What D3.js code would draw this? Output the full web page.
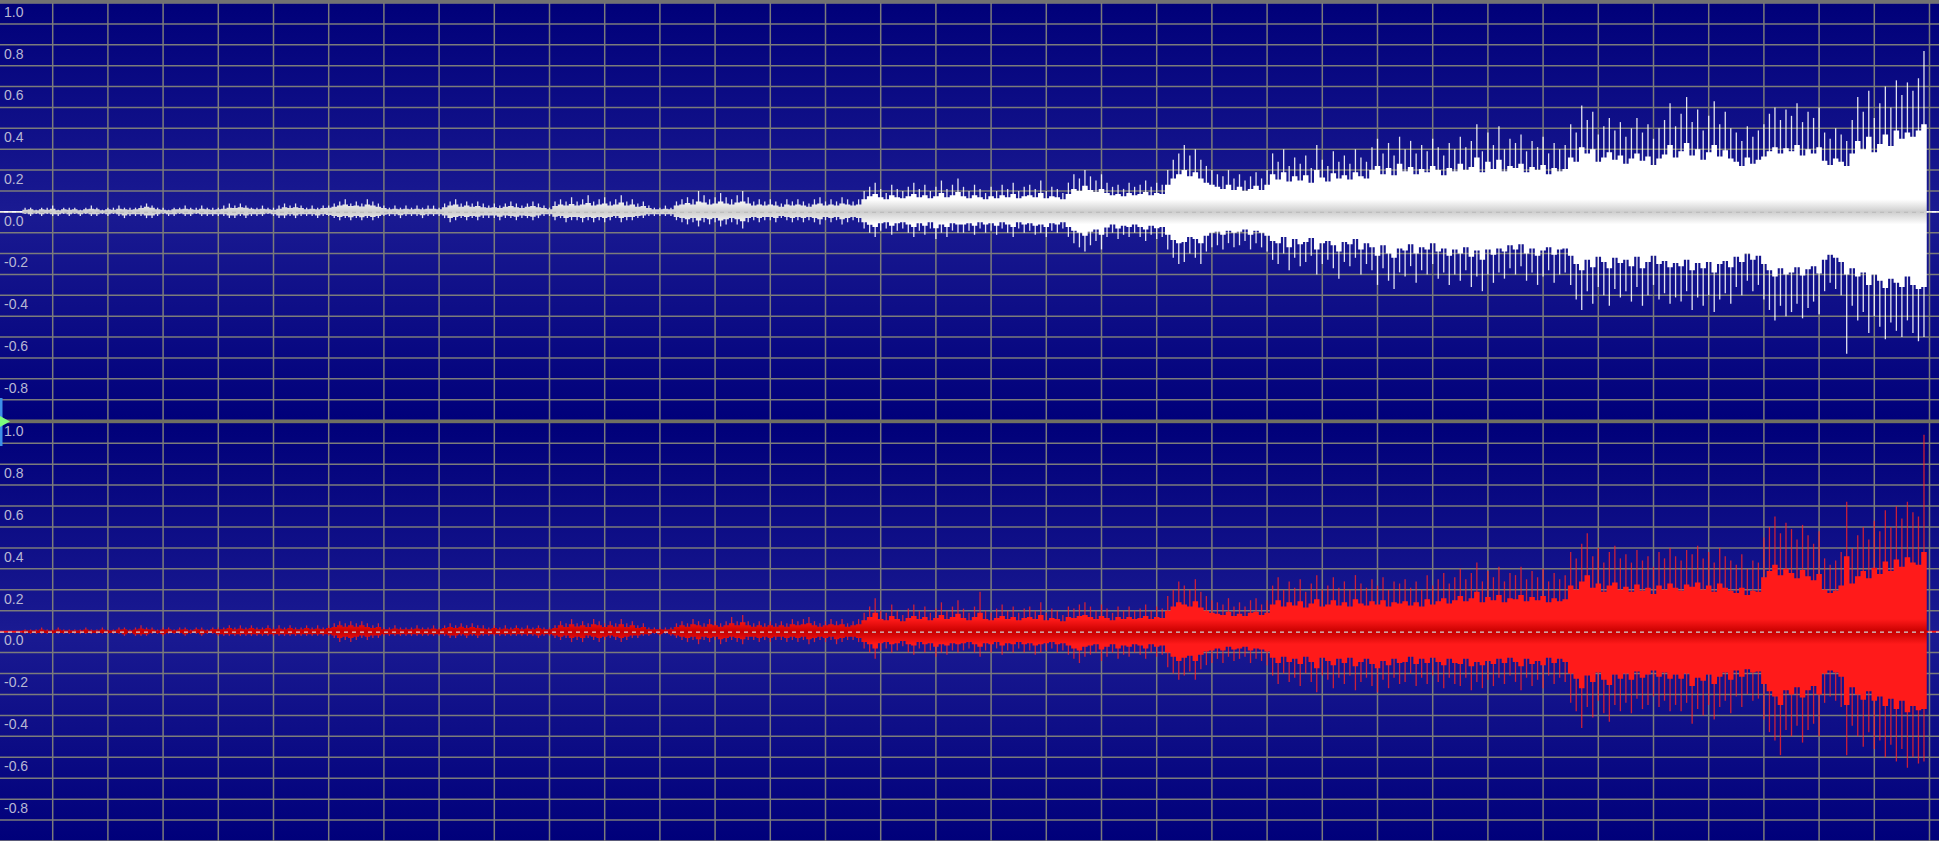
<!DOCTYPE html>
<html><head><meta charset="utf-8">
<script src="https://cdn.jsdelivr.net/npm/d3@7"></script>
<style>html,body{margin:0;padding:0;background:#000078;overflow:hidden}</style>
</head><body>
<svg id="chart" width="1939" height="841"></svg>
<script>
// ---------- data ----------
const tickValues = [1.0, 0.8, 0.6, 0.4, 0.2, 0.0, -0.2, -0.4, -0.6, -0.8];
const tickLabels = ["1.0", "0.8", "0.6", "0.4", "0.2", "0.0", "-0.2", "-0.4", "-0.6", "-0.8"];
const gridValues = [1.0,0.9,0.8,0.7,0.6,0.5,0.4,0.3,0.2,0.1,0.0,-0.1,-0.2,-0.3,-0.4,-0.5,-0.6,-0.7,-0.8,-0.9,-1.0];
const gridSeconds = [0,1,2,3,4,5,6,7,8,9,10,11,12,13,14,15,16,17,18,19,20,21,22,23,24,25,26,27,28,29,30,31,32,33,34,35];
const viewSeconds = [0, 35];
const clipStart = 0.45, clipEnd = 34.95;   // seconds
const binStep = 0.1;                         // seconds per bin

// channel 1 (top, white): peak maxima / minima per 0.1 s
const leftMax = [
.02,.02,.01,.02,.02,.03,.01,.02,.02,.02,
.01,.02,.03,.02,.01,.02,.02,.03,.02,.02,
.02,.03,.04,.03,.02,.02,.01,.02,.02,.03,
.02,.02,.03,.02,.02,.02,.03,.04,.03,.04,
.03,.02,.02,.03,.02,.02,.03,.04,.03,.04,
.03,.02,.03,.02,.03,.03,.04,.05,.06,.04,
.05,.04,.06,.05,.04,.03,.02,.03,.02,.03,
.02,.03,.02,.03,.03,.02,.04,.05,.06,.04,
.05,.04,.05,.04,.03,.04,.03,.04,.05,.04,
.03,.04,.05,.04,.03,.02,.05,.06,.05,.07,
.05,.06,.08,.05,.06,.07,.05,.06,.08,.05,
.06,.04,.05,.03,.02,.02,.03,.02,.05,.06,
.07,.06,.1,.08,.06,.07,.09,.07,.06,.08,
.1,.07,.05,.06,.05,.06,.05,.04,.06,.05,
.06,.05,.04,.06,.07,.05,.06,.05,.07,.06,
.05,.06,.1,.12,.14,.11,.09,.13,.11,.1,
.12,.14,.11,.13,.1,.12,.15,.11,.13,.16,
.12,.1,.13,.11,.09,.12,.1,.13,.11,.14,
.1,.12,.13,.11,.15,.1,.12,.11,.09,.14,
.18,.16,.2,.17,.15,.18,.14,.12,.13,.11,
.14,.12,.13,.15,.12,.14,.13,.2,.25,.28,
.32,.27,.3,.25,.22,.2,.18,.17,.2,.16,
.18,.15,.17,.19,.16,.2,.28,.24,.3,.22,
.26,.23,.27,.21,.32,.25,.22,.29,.24,.27,
.23,.3,.26,.24,.31,.35,.28,.33,.27,.36,
.3,.34,.28,.32,.29,.35,.31,.27,.33,.3,
.36,.31,.34,.42,.29,.38,.32,.41,.3,.35,
.33,.37,.29,.34,.31,.36,.28,.33,.3,.32,
.42,.38,.51,.44,.48,.37,.41,.45,.39,.43,
.36,.4,.45,.38,.42,.35,.4,.44,.52,.41,
.47,.55,.43,.49,.39,.46,.53,.42,.48,.4,
.38,.34,.41,.36,.39,.42,.47,.5,.44,.49,
.46,.52,.43,.48,.45,.5,.38,.35,.4,.37,
.34,.44,.55,.48,.58,.45,.52,.6,.5,.63,
.56,.62,.58,.64,.77];
const leftMin = [
-.01,-.02,-.01,-.02,-.01,-.02,-.02,-.01,-.02,-.01,
-.02,-.01,-.02,-.02,-.01,-.02,-.01,-.02,-.03,-.02,
-.02,-.02,-.03,-.03,-.02,-.01,-.02,-.02,-.01,-.02,
-.02,-.01,-.02,-.02,-.02,-.02,-.02,-.03,-.03,-.02,
-.03,-.02,-.02,-.02,-.01,-.02,-.03,-.03,-.02,-.03,
-.02,-.02,-.02,-.03,-.02,-.02,-.03,-.04,-.03,-.04,
-.03,-.04,-.03,-.04,-.03,-.02,-.02,-.02,-.03,-.02,
-.02,-.02,-.03,-.02,-.02,-.02,-.03,-.05,-.04,-.03,
-.04,-.03,-.04,-.03,-.03,-.03,-.04,-.03,-.03,-.04,
-.03,-.03,-.04,-.03,-.02,-.02,-.04,-.03,-.05,-.04,
-.04,-.05,-.04,-.05,-.04,-.05,-.04,-.03,-.05,-.04,
-.04,-.03,-.03,-.02,-.02,-.02,-.02,-.02,-.04,-.05,
-.06,-.05,-.07,-.05,-.06,-.05,-.07,-.06,-.05,-.06,
-.08,-.05,-.04,-.05,-.04,-.04,-.05,-.03,-.04,-.05,
-.04,-.05,-.04,-.05,-.06,-.04,-.05,-.04,-.06,-.05,
-.04,-.05,-.08,-.1,-.12,-.09,-.08,-.11,-.09,-.08,
-.1,-.12,-.09,-.11,-.08,-.13,-.1,-.12,-.09,-.1,
-.1,-.09,-.11,-.08,-.1,-.09,-.11,-.08,-.1,-.12,
-.08,-.1,-.09,-.11,-.1,-.12,-.09,-.1,-.08,-.12,
-.15,-.17,-.19,-.16,-.14,-.18,-.12,-.1,-.13,-.11,
-.12,-.1,-.12,-.14,-.11,-.13,-.12,-.18,-.22,-.25,
-.24,-.2,-.22,-.25,-.19,-.17,-.16,-.18,-.15,-.17,
-.16,-.14,-.18,-.15,-.17,-.19,-.23,-.25,-.2,-.28,
-.22,-.26,-.24,-.21,-.3,-.25,-.23,-.27,-.32,-.24,
-.26,-.22,-.3,-.25,-.28,-.35,-.27,-.33,-.37,-.29,
-.31,-.26,-.34,-.28,-.3,-.25,-.32,-.29,-.35,-.3,
-.33,-.28,-.36,-.31,-.38,-.3,-.34,-.29,-.32,-.27,
-.3,-.26,-.33,-.29,-.35,-.31,-.28,-.34,-.3,-.29,
-.35,-.42,-.47,-.38,-.44,-.36,-.4,-.45,-.37,-.41,
-.38,-.43,-.36,-.45,-.4,-.35,-.42,-.39,-.44,-.41,
-.43,-.38,-.47,-.41,-.45,-.4,-.48,-.42,-.39,-.44,
-.36,-.4,-.33,-.38,-.35,-.42,-.47,-.52,-.45,-.5,
-.48,-.44,-.51,-.46,-.43,-.49,-.38,-.34,-.37,-.4,
-.68,-.45,-.52,-.48,-.58,-.5,-.55,-.61,-.53,-.57,
-.6,-.52,-.58,-.62,-.6];
// channel 1 dense body (bulk of samples) per 0.1 s
const leftBodyHi = [
.01,.012,.008,.012,.01,.015,.008,.012,.01,.012,
.008,.012,.015,.012,.008,.012,.01,.015,.012,.01,
.012,.018,.025,.02,.012,.01,.008,.012,.012,.015,
.012,.01,.015,.012,.01,.012,.015,.02,.018,.022,
.02,.015,.012,.015,.012,.01,.015,.022,.018,.022,
.018,.012,.015,.012,.018,.02,.025,.03,.035,.028,
.03,.026,.035,.03,.025,.018,.012,.015,.012,.015,
.012,.015,.012,.015,.015,.012,.022,.03,.035,.025,
.03,.025,.028,.022,.02,.022,.018,.024,.028,.022,
.018,.024,.028,.022,.018,.012,.028,.035,.03,.038,
.03,.035,.042,.03,.035,.04,.03,.035,.045,.03,
.035,.025,.028,.018,.012,.012,.015,.012,.03,.035,
.042,.035,.05,.045,.035,.04,.05,.04,.035,.045,
.05,.04,.03,.035,.03,.035,.03,.025,.035,.03,
.035,.03,.025,.035,.04,.03,.035,.03,.04,.035,
.03,.035,.06,.075,.085,.07,.06,.08,.07,.065,
.075,.085,.07,.08,.065,.075,.09,.07,.08,.095,
.075,.065,.08,.07,.06,.075,.065,.08,.07,.085,
.065,.075,.08,.07,.09,.065,.075,.07,.06,.085,
.11,.1,.125,.105,.095,.11,.09,.08,.085,.075,
.09,.08,.085,.095,.08,.09,.085,.13,.16,.18,
.2,.17,.19,.16,.14,.13,.12,.11,.13,.105,
.12,.1,.11,.125,.105,.13,.18,.155,.19,.145,
.17,.15,.175,.14,.2,.165,.145,.185,.16,.175,
.155,.19,.17,.16,.2,.22,.18,.21,.175,.23,
.195,.215,.18,.205,.19,.22,.2,.175,.21,.195,
.23,.2,.215,.26,.19,.24,.205,.25,.195,.22,
.21,.23,.19,.215,.2,.225,.18,.21,.195,.205,
.26,.24,.31,.28,.3,.24,.26,.285,.25,.27,
.23,.255,.28,.245,.265,.225,.255,.275,.32,.26,
.29,.33,.27,.3,.25,.285,.32,.265,.295,.255,
.24,.22,.26,.23,.25,.265,.29,.31,.28,.305,
.29,.32,.27,.3,.28,.31,.245,.225,.255,.24,
.22,.28,.34,.3,.36,.285,.325,.37,.315,.39,
.35,.38,.36,.39,.42];
const leftBodyLo = [
-.008,-.012,-.008,-.012,-.008,-.012,-.012,-.008,-.012,-.008,
-.012,-.008,-.012,-.012,-.008,-.012,-.008,-.012,-.018,-.012,
-.012,-.012,-.018,-.018,-.012,-.008,-.012,-.012,-.008,-.012,
-.012,-.008,-.012,-.012,-.012,-.012,-.012,-.018,-.018,-.012,
-.018,-.012,-.012,-.012,-.008,-.012,-.018,-.018,-.012,-.018,
-.012,-.012,-.012,-.018,-.012,-.015,-.02,-.025,-.02,-.026,
-.02,-.026,-.02,-.025,-.02,-.014,-.012,-.012,-.016,-.012,
-.012,-.012,-.016,-.012,-.012,-.012,-.018,-.03,-.025,-.02,
-.025,-.02,-.024,-.018,-.018,-.018,-.024,-.018,-.02,-.024,
-.018,-.02,-.024,-.018,-.012,-.012,-.024,-.02,-.03,-.025,
-.025,-.03,-.025,-.03,-.025,-.03,-.025,-.02,-.03,-.025,
-.025,-.02,-.018,-.012,-.012,-.012,-.012,-.012,-.025,-.03,
-.036,-.03,-.042,-.03,-.036,-.03,-.042,-.036,-.03,-.036,
-.045,-.03,-.025,-.03,-.025,-.025,-.03,-.02,-.025,-.03,
-.025,-.03,-.025,-.03,-.036,-.025,-.03,-.025,-.036,-.03,
-.025,-.03,-.05,-.062,-.072,-.055,-.05,-.066,-.055,-.05,
-.06,-.072,-.055,-.066,-.05,-.078,-.06,-.072,-.055,-.06,
-.06,-.055,-.066,-.05,-.06,-.055,-.066,-.05,-.06,-.072,
-.05,-.06,-.055,-.066,-.06,-.072,-.055,-.06,-.05,-.072,
-.09,-.1,-.115,-.095,-.085,-.11,-.075,-.06,-.08,-.066,
-.072,-.06,-.072,-.085,-.066,-.078,-.072,-.11,-.135,-.15,
-.145,-.12,-.13,-.15,-.115,-.1,-.095,-.11,-.09,-.1,
-.095,-.085,-.11,-.09,-.1,-.115,-.14,-.15,-.12,-.17,
-.13,-.155,-.145,-.125,-.18,-.15,-.14,-.16,-.19,-.145,
-.155,-.13,-.18,-.15,-.17,-.21,-.16,-.2,-.22,-.175,
-.185,-.155,-.2,-.17,-.18,-.15,-.19,-.175,-.21,-.18,
-.2,-.17,-.215,-.185,-.23,-.18,-.205,-.175,-.19,-.16,
-.18,-.155,-.2,-.175,-.21,-.185,-.17,-.205,-.18,-.175,
-.21,-.25,-.28,-.23,-.265,-.215,-.24,-.27,-.22,-.245,
-.23,-.26,-.215,-.27,-.24,-.21,-.25,-.235,-.265,-.245,
-.26,-.23,-.28,-.245,-.27,-.24,-.29,-.25,-.235,-.265,
-.215,-.24,-.2,-.23,-.21,-.25,-.28,-.31,-.27,-.3,
-.29,-.265,-.305,-.275,-.26,-.295,-.23,-.205,-.22,-.24,
-.3,-.27,-.31,-.29,-.35,-.3,-.33,-.365,-.32,-.34,
-.36,-.31,-.35,-.37,-.36];

// channel 2 (bottom, red)
const rightMax = [
.01,.01,.01,.02,.01,.01,.02,.01,.01,.01,
.01,.02,.01,.01,.02,.01,.01,.02,.02,.01,
.02,.03,.02,.02,.01,.02,.02,.01,.02,.02,
.01,.02,.02,.01,.02,.02,.02,.03,.02,.03,
.02,.03,.02,.02,.03,.02,.03,.02,.03,.02,
.02,.03,.02,.03,.02,.03,.04,.05,.04,.05,
.04,.05,.04,.03,.04,.02,.02,.03,.02,.02,
.02,.03,.02,.02,.03,.02,.03,.04,.03,.04,
.03,.04,.03,.03,.02,.03,.02,.03,.02,.03,
.02,.03,.02,.03,.02,.02,.03,.05,.04,.06,
.04,.05,.04,.06,.05,.04,.05,.04,.06,.04,
.05,.03,.04,.02,.02,.02,.02,.02,.04,.05,
.04,.06,.05,.04,.06,.05,.04,.05,.07,.05,
.08,.05,.04,.05,.04,.05,.04,.05,.04,.06,
.05,.06,.07,.05,.04,.05,.06,.05,.06,.04,
.05,.06,.09,.12,.16,.1,.09,.13,.1,.08,
.11,.13,.1,.12,.09,.11,.14,.1,.12,.15,
.11,.09,.12,.19,.1,.09,.11,.13,.1,.12,
.09,.11,.12,.1,.14,.09,.11,.1,.08,.12,
.11,.13,.14,.12,.1,.13,.11,.09,.12,.1,
.12,.1,.11,.13,.1,.12,.11,.17,.2,.24,
.22,.2,.25,.19,.17,.15,.14,.13,.16,.12,
.14,.12,.15,.16,.13,.15,.22,.26,.2,.24,
.21,.25,.19,.23,.27,.2,.22,.26,.21,.24,
.2,.27,.23,.21,.25,.22,.26,.2,.24,.23,
.25,.21,.24,.2,.27,.22,.25,.28,.23,.26,
.3,.25,.28,.33,.24,.29,.26,.31,.24,.28,
.27,.31,.25,.29,.26,.3,.24,.28,.25,.27,
.38,.35,.42,.47,.36,.4,.33,.38,.41,.35,
.37,.33,.39,.34,.36,.31,.38,.35,.4,.36,
.34,.39,.37,.41,.35,.38,.33,.4,.36,.34,
.32,.37,.3,.34,.33,.45,.5,.55,.47,.52,
.49,.44,.51,.46,.42,.48,.35,.32,.34,.38,
.62,.4,.46,.5,.44,.53,.48,.58,.5,.6,
.54,.62,.57,.55,.94];
const rightMin = [
-.01,-.01,-.01,-.01,-.01,-.01,-.01,-.01,-.01,-.01,
-.01,-.01,-.01,-.01,-.01,-.01,-.01,-.01,-.02,-.01,
-.02,-.02,-.02,-.01,-.01,-.02,-.01,-.01,-.01,-.02,
-.01,-.01,-.02,-.01,-.01,-.02,-.02,-.02,-.02,-.02,
-.02,-.02,-.02,-.02,-.02,-.02,-.02,-.02,-.02,-.02,
-.02,-.02,-.02,-.02,-.02,-.02,-.03,-.05,-.04,-.05,
-.04,-.03,-.04,-.03,-.03,-.02,-.02,-.02,-.02,-.02,
-.02,-.02,-.02,-.02,-.02,-.02,-.02,-.03,-.03,-.02,
-.03,-.02,-.03,-.02,-.02,-.02,-.02,-.02,-.02,-.02,
-.02,-.02,-.02,-.03,-.02,-.02,-.03,-.04,-.03,-.05,
-.04,-.05,-.03,-.04,-.05,-.04,-.03,-.04,-.05,-.04,
-.03,-.03,-.02,-.02,-.01,-.02,-.01,-.02,-.03,-.04,
-.05,-.04,-.06,-.04,-.05,-.04,-.06,-.05,-.04,-.05,
-.06,-.04,-.04,-.05,-.04,-.05,-.04,-.04,-.05,-.04,
-.05,-.04,-.06,-.05,-.04,-.05,-.04,-.06,-.05,-.04,
-.04,-.05,-.08,-.1,-.13,-.09,-.08,-.1,-.09,-.07,
-.1,-.11,-.08,-.1,-.09,-.12,-.1,-.11,-.09,-.1,
-.09,-.08,-.1,-.12,-.09,-.1,-.08,-.11,-.09,-.1,
-.08,-.1,-.09,-.11,-.1,-.09,-.08,-.1,-.09,-.11,
-.13,-.15,-.12,-.11,-.1,-.14,-.12,-.1,-.13,-.11,
-.12,-.1,-.11,-.13,-.1,-.12,-.11,-.17,-.2,-.23,
-.21,-.19,-.23,-.18,-.16,-.15,-.13,-.15,-.12,-.14,
-.13,-.12,-.15,-.13,-.14,-.16,-.21,-.25,-.2,-.24,
-.22,-.26,-.2,-.24,-.29,-.21,-.23,-.27,-.22,-.25,
-.21,-.28,-.24,-.22,-.26,-.29,-.23,-.27,-.22,-.25,
-.24,-.2,-.26,-.22,-.25,-.21,-.24,-.27,-.22,-.25,
-.26,-.22,-.28,-.24,-.27,-.23,-.26,-.22,-.25,-.21,
-.24,-.28,-.22,-.26,-.23,-.27,-.21,-.25,-.22,-.24,
-.34,-.38,-.46,-.36,-.41,-.33,-.39,-.43,-.35,-.38,
-.34,-.39,-.32,-.37,-.35,-.31,-.36,-.33,-.38,-.35,
-.38,-.34,-.44,-.37,-.4,-.35,-.42,-.36,-.33,-.39,
-.31,-.36,-.3,-.33,-.32,-.42,-.48,-.52,-.59,-.47,
-.5,-.45,-.53,-.47,-.44,-.5,-.34,-.31,-.33,-.36,
-.59,-.45,-.5,-.55,-.48,-.56,-.52,-.6,-.54,-.62,
-.56,-.65,-.6,-.63,-.62];
const rightBodyHi = [
.006,.006,.006,.01,.006,.006,.01,.006,.006,.006,
.006,.01,.006,.006,.01,.006,.006,.01,.012,.006,
.01,.015,.012,.01,.006,.01,.012,.006,.01,.012,
.006,.012,.01,.006,.012,.012,.012,.018,.012,.015,
.012,.018,.012,.012,.018,.012,.015,.012,.018,.012,
.012,.018,.012,.015,.012,.018,.022,.03,.024,.03,
.024,.03,.022,.018,.022,.012,.012,.015,.012,.012,
.012,.015,.012,.012,.015,.012,.018,.022,.018,.024,
.018,.022,.018,.015,.012,.018,.012,.015,.012,.018,
.012,.015,.012,.018,.012,.012,.018,.03,.022,.035,
.025,.03,.022,.035,.03,.022,.03,.024,.035,.022,
.03,.018,.022,.012,.012,.012,.01,.012,.022,.03,
.024,.035,.03,.024,.035,.03,.024,.03,.04,.03,
.045,.03,.024,.03,.024,.03,.024,.03,.024,.035,
.03,.035,.04,.03,.024,.03,.035,.03,.035,.024,
.03,.035,.055,.07,.09,.06,.055,.075,.06,.05,
.065,.075,.06,.07,.055,.065,.08,.06,.07,.085,
.065,.055,.07,.09,.06,.055,.065,.075,.06,.07,
.055,.065,.07,.06,.08,.055,.065,.06,.05,.07,
.065,.075,.08,.07,.06,.075,.065,.055,.07,.06,
.07,.06,.065,.075,.06,.07,.065,.1,.12,.14,
.13,.12,.145,.115,.1,.09,.085,.08,.095,.075,
.085,.075,.09,.095,.08,.09,.13,.15,.12,.14,
.125,.145,.115,.135,.155,.12,.13,.15,.125,.14,
.12,.155,.135,.125,.145,.13,.15,.12,.14,.135,
.145,.125,.14,.12,.155,.13,.145,.16,.135,.15,
.17,.145,.16,.19,.14,.165,.15,.175,.14,.16,
.155,.175,.145,.165,.15,.17,.14,.16,.145,.155,
.22,.2,.24,.27,.21,.23,.19,.22,.235,.2,
.215,.19,.225,.195,.21,.18,.22,.2,.23,.21,
.195,.225,.215,.235,.2,.22,.19,.23,.21,.195,
.185,.21,.175,.195,.19,.26,.29,.32,.27,.3,
.28,.255,.295,.265,.245,.275,.2,.185,.195,.22,
.36,.23,.265,.29,.255,.305,.275,.335,.29,.345,
.31,.355,.33,.32,.38];
const rightBodyLo = [
-.006,-.006,-.006,-.006,-.006,-.006,-.006,-.006,-.006,-.006,
-.006,-.006,-.006,-.006,-.006,-.006,-.006,-.006,-.012,-.006,
-.012,-.012,-.012,-.006,-.006,-.012,-.006,-.006,-.006,-.012,
-.006,-.006,-.012,-.006,-.006,-.012,-.012,-.012,-.012,-.012,
-.012,-.012,-.012,-.012,-.012,-.012,-.012,-.012,-.012,-.012,
-.012,-.012,-.012,-.012,-.012,-.012,-.018,-.03,-.024,-.03,
-.024,-.018,-.024,-.018,-.018,-.012,-.012,-.012,-.012,-.012,
-.012,-.012,-.012,-.012,-.012,-.012,-.012,-.018,-.018,-.012,
-.018,-.012,-.018,-.012,-.012,-.012,-.012,-.012,-.012,-.012,
-.012,-.012,-.012,-.018,-.012,-.012,-.018,-.024,-.018,-.03,
-.024,-.03,-.018,-.024,-.03,-.024,-.018,-.024,-.03,-.024,
-.018,-.018,-.012,-.012,-.006,-.012,-.006,-.012,-.018,-.024,
-.03,-.024,-.036,-.024,-.03,-.024,-.036,-.03,-.024,-.03,
-.036,-.024,-.024,-.03,-.024,-.03,-.024,-.024,-.03,-.024,
-.03,-.024,-.036,-.03,-.024,-.03,-.024,-.036,-.03,-.024,
-.024,-.03,-.05,-.06,-.08,-.055,-.05,-.06,-.055,-.045,
-.06,-.066,-.05,-.06,-.055,-.072,-.06,-.066,-.055,-.06,
-.055,-.05,-.06,-.072,-.055,-.06,-.05,-.066,-.055,-.06,
-.05,-.06,-.055,-.066,-.06,-.055,-.05,-.06,-.055,-.066,
-.08,-.09,-.072,-.066,-.06,-.085,-.072,-.06,-.08,-.066,
-.072,-.06,-.066,-.08,-.06,-.072,-.066,-.1,-.12,-.14,
-.125,-.115,-.14,-.11,-.095,-.09,-.08,-.09,-.072,-.085,
-.08,-.072,-.09,-.08,-.085,-.095,-.125,-.15,-.12,-.145,
-.13,-.155,-.12,-.145,-.175,-.125,-.14,-.16,-.13,-.15,
-.125,-.165,-.145,-.13,-.155,-.175,-.14,-.16,-.13,-.15,
-.145,-.12,-.155,-.13,-.15,-.125,-.145,-.16,-.13,-.15,
-.155,-.13,-.165,-.145,-.16,-.14,-.155,-.13,-.15,-.125,
-.145,-.165,-.13,-.155,-.14,-.16,-.125,-.15,-.13,-.145,
-.2,-.225,-.27,-.21,-.24,-.195,-.23,-.255,-.205,-.225,
-.2,-.23,-.19,-.22,-.205,-.185,-.215,-.195,-.225,-.205,
-.225,-.2,-.26,-.22,-.235,-.205,-.25,-.215,-.195,-.23,
-.185,-.215,-.18,-.195,-.19,-.25,-.285,-.31,-.35,-.28,
-.3,-.265,-.315,-.28,-.26,-.3,-.2,-.185,-.195,-.215,
-.35,-.265,-.3,-.325,-.285,-.33,-.31,-.355,-.32,-.37,
-.33,-.385,-.355,-.375,-.37];

// ---------- drawing ----------
const W = 1939, H = 841;
const svg = d3.select("#chart");
const defs = svg.append("defs");

const x = d3.scaleLinear().domain(viewSeconds).range([-2.5, 1929.5]);
const binT = i => clipStart + binStep * (i + 0.5);

const panels = [
  {id:"L", top:3.1, bottom:420.6, max:leftMax, min:leftMin, hi:leftBodyHi, lo:leftBodyLo,
   line:"#ffffff", center:"#cdcdcd", edge:"#ffffff", spike:"#ffffff", spikeOp:0.88, dash:"#bdbdbd"},
  {id:"R", top:422.3, bottom:841, max:rightMax, min:rightMin, hi:rightBodyHi, lo:rightBodyLo,
   line:"#ff1010", center:"#c80000", edge:"#ff1a1a", spike:"#ff2424", spikeOp:0.78, dash:"#d2d2d2"}
];

panels.forEach(p => {
  p.y = d3.scaleLinear().domain([1, -1]).range([p.top, p.bottom]);
  const bg = defs.append("linearGradient").attr("id","bg"+p.id)
    .attr("gradientUnits","userSpaceOnUse").attr("x1",0).attr("x2",0)
    .attr("y1",p.top).attr("y2",p.bottom);
  bg.append("stop").attr("offset","0%").attr("stop-color","#000079");
  bg.append("stop").attr("offset","50%").attr("stop-color","#1a1a92");
  bg.append("stop").attr("offset","100%").attr("stop-color","#00007a");
  const wf = defs.append("linearGradient").attr("id","wf"+p.id)
    .attr("gradientUnits","userSpaceOnUse").attr("x1",0).attr("x2",0)
    .attr("y1",p.y(0.3)).attr("y2",p.y(-0.3));
  wf.append("stop").attr("offset","0%").attr("stop-color",p.edge);
  wf.append("stop").attr("offset","40%").attr("stop-color",p.edge);
  wf.append("stop").attr("offset","50%").attr("stop-color",p.center);
  wf.append("stop").attr("offset","60%").attr("stop-color",p.edge);
  wf.append("stop").attr("offset","100%").attr("stop-color",p.edge);
});

panels.forEach(p => {
  const g = svg.append("g");
  g.append("rect").attr("x",0).attr("y",p.top).attr("width",W).attr("height",p.bottom-p.top)
    .attr("fill","url(#bg"+p.id+")");
  g.selectAll("line.h").data(gridValues).join("line")
    .attr("x1",0).attr("x2",W).attr("y1",d=>p.y(d)).attr("y2",d=>p.y(d))
    .attr("stroke","#7b7b7b").attr("stroke-width",1.5);
  g.selectAll("line.v").data(gridSeconds).join("line")
    .attr("x1",d=>x(d)).attr("x2",d=>x(d)).attr("y1",p.top).attr("y2",p.bottom)
    .attr("stroke","#7b7b7b").attr("stroke-width",1.5);
  g.selectAll("text").data(tickValues).join("text")
    .attr("x",4).attr("y",d=>p.y(d)+13.8)
    .attr("font-family","'Liberation Sans', Arial, sans-serif").attr("font-size",14)
    .attr("fill","#b8b8d4").text((d,i)=>tickLabels[i]);
  // zero line
  g.append("line").attr("x1",0).attr("x2",W).attr("y1",p.y(0)).attr("y2",p.y(0))
    .attr("stroke",p.line).attr("stroke-width",1.6);
  // peaks (thin spikes)
  g.selectAll("line.pk").data(p.max).join("line")
    .attr("x1",(d,i)=>x(binT(i))).attr("x2",(d,i)=>x(binT(i)))
    .attr("y1",d=>p.y(d)).attr("y2",(d,i)=>p.y(p.min[i]))
    .attr("stroke",p.spike).attr("stroke-opacity",p.spikeOp).attr("stroke-width",1.3);
  // dense body
  const pts = p.hi.map((d,i)=>({t:binT(i), hi:d, lo:p.lo[i]}));
  pts.unshift({t:clipStart, hi:p.hi[0], lo:p.lo[0]});
  pts.push({t:clipEnd, hi:p.hi[p.hi.length-1], lo:p.lo[p.lo.length-1]});
  const area = d3.area().curve(d3.curveStep)
    .x(d=>x(d.t)).y0(d=>p.y(d.lo)).y1(d=>p.y(d.hi));
  g.append("path").datum(pts).attr("d",area).attr("fill","url(#wf"+p.id+")");
  // dashed centre line
  g.append("line").attr("x1",0).attr("x2",W).attr("y1",p.y(0)+0.5).attr("y2",p.y(0)+0.5)
    .attr("stroke",p.dash).attr("stroke-width",1.2).attr("stroke-dasharray","4,4");
});

// borders
svg.append("rect").attr("x",0).attr("y",0).attr("width",W).attr("height",3).attr("fill","#727272");
svg.append("rect").attr("x",0).attr("y",419.6).attr("width",W).attr("height",3.6).attr("fill","#6f6f62");
// channel marker
svg.append("rect").attr("x",0).attr("y",398).attr("width",2.5).attr("height",48).attr("fill","#3d8fe8");
svg.append("path").attr("d","M0,416 L10,421.5 L0,427 Z").attr("fill","#7dfc7d");
</script>
</body></html>
